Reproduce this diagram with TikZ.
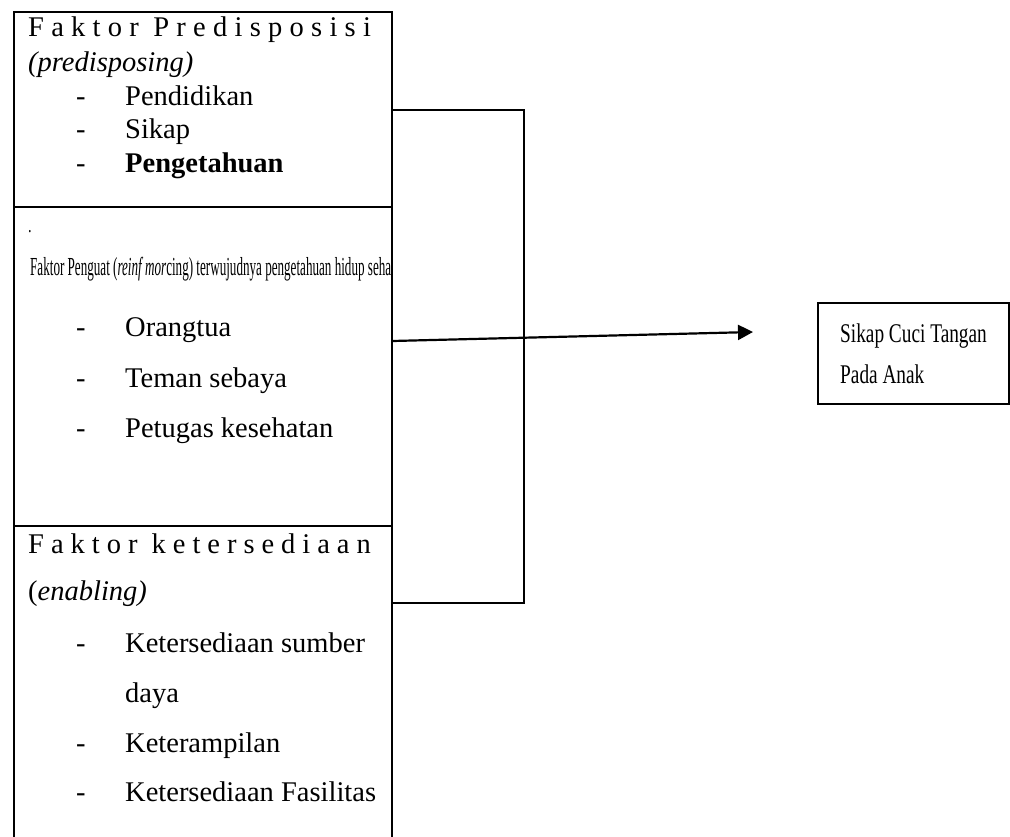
\documentclass[tikz,border=0pt]{standalone}
\usepackage{fontspec}
\setmainfont{Liberation Serif}
\newfontfamily\condfont{Liberation Serif}[FakeStretch=0.715]
\usepackage{tikz}
\usetikzlibrary{arrows,arrows.meta,shapes,positioning}

\begin{document}
\begin{tikzpicture}[x=1pt, y=-1pt, >={Triangle[length=15pt,width=15pt]}, font=\fontsize{28.5}{34}\selectfont]
  \tikzstyle{panel}=[rectangle, draw, line width=2pt, minimum width=378pt, inner sep=0pt]
  \tikzstyle{entry}=[anchor=base west, inner sep=0pt]
  \tikzstyle{title}=[anchor=base west, inner sep=0pt]
  \tikzstyle{result}=[rectangle, draw, line width=1.2pt, align=left, minimum width=191pt, minimum height=101pt, font=\condfont\fontsize{27}{41}\selectfont]
  \tikzstyle{bracket}=[line width=1.2pt]
  \useasboundingbox (0,0) rectangle (1010,837);
  % three panels of the factor column
  \node[panel, minimum height=195pt] (predis) at (202.5,110) {};
  \node[panel, minimum height=318.5pt] (penguat) at (202.5,366.75) {};
  \node[panel, minimum height=400pt] (enabling) at (202.5,726) {};
  % predisposing
  \node[title] (predisT) at (28,37) {\addfontfeatures{LetterSpace=25.5}Faktor Predisposisi};
  \node[title] (predisS) at (28,72) {\textit{(predisposing)}};
  \node[entry] (dashA) at (76,106) {-};
  \node[entry] (pendidikan) at (125,106) {Pendidikan};
  \node[entry] (dashB) at (76,139) {-};
  \node[entry] (sikapItem) at (125,139) {Sikap};
  \node[entry] (dashC) at (76,173) {-};
  \node[entry] (pengetahuan) at (125,173) {\textbf{Pengetahuan}};
  % reinforcing
  \node[entry] (dot) at (28,233) {\condfont\fontsize{20}{20}\selectfont .};
  \node[title] (penguatT) at (30,276) {\resizebox{361pt}{\height}{\fontsize{26}{26}\selectfont Faktor Penguat (\textit{reinf mor}cing) terwujudnya pengetahuan hidup seha}};
  \node[entry] (dashD) at (76,337) {-};
  \node[entry] (orangtua) at (125,337) {Orangtua};
  \node[entry] (dashE) at (76,387) {-};
  \node[entry] (teman) at (125,387) {Teman sebaya};
  \node[entry] (dashF) at (76,437) {-};
  \node[entry] (petugas) at (125,437) {Petugas kesehatan};
  % enabling
  \node[title] (enablingT) at (28,553) {\addfontfeatures{LetterSpace=24.5}Faktor ketersediaan};
  \node[title] (enablingS) at (28,600) {(\textit{enabling)}};
  \node[entry] (dashG) at (76,652) {-};
  \node[entry] (sumber) at (125,652) {Ketersediaan sumber};
  \node[entry] (daya) at (125,702) {daya};
  \node[entry] (dashH) at (76,752) {-};
  \node[entry] (terampil) at (125,752) {Keterampilan};
  \node[entry] (dashI) at (76,801) {-};
  \node[entry] (fasilitas) at (125,801) {Ketersediaan Fasilitas};
  % outcome
  \node[result] (sikap) at (913.5,353.5) {Sikap Cuci Tangan\\Pada Anak};
  \coordinate (spine) at (524,341);
  \coordinate (tip) at (753,332);
  \draw[bracket] (predis.east) -| (spine) |- ([yshift=123pt]enabling.east);
  \draw[->, line width=2.2pt] ([yshift=25.75pt]penguat.east) -- (tip);
\end{tikzpicture}
\end{document}
